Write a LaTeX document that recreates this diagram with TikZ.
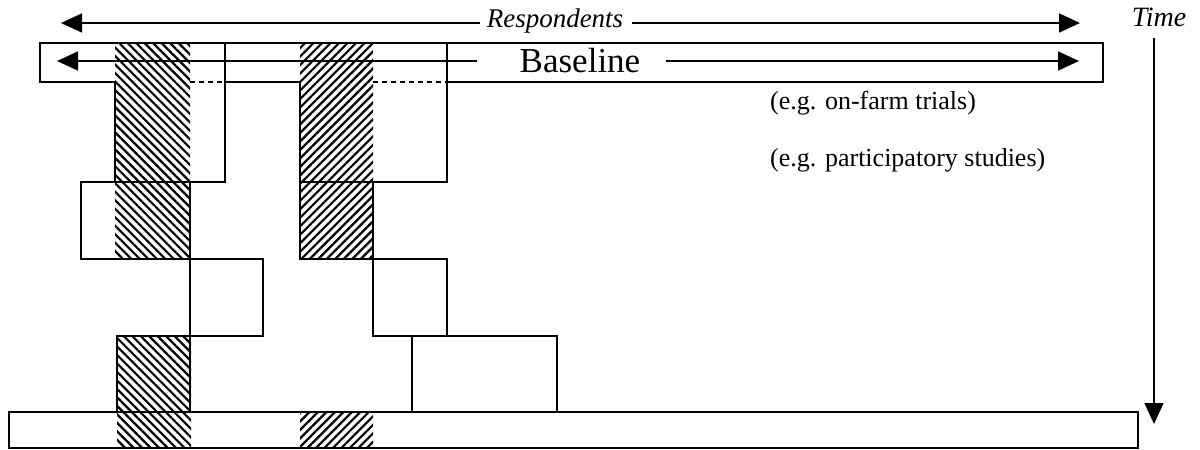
\documentclass[tikz,border=0pt]{standalone}
\usepackage{fontspec}
\setmainfont{Liberation Serif}
\usetikzlibrary{arrows.meta,patterns.meta}
\begin{document}
\begin{tikzpicture}[x=1pt,y=-1pt,
  edge/.style={line width=1.6pt,line cap=rect},
  dashedge/.style={line width=1.6pt,dash pattern=on 5pt off 4pt},
  hatchback/.style={pattern={Lines[angle=-45,distance=6pt,line width=2.2pt]}},
  hatchfwd/.style={pattern={Lines[angle=45,distance=6pt,line width=2.2pt]}},
  bigarrow/.style={line width=1.6pt,-{Triangle[length=21pt,width=19pt]}},
  lbl/.style={inner sep=0pt,font=\fontsize{26}{30}\selectfont}]
\useasboundingbox (0,0) rectangle (1200,450);

% hatched strips
\fill[hatchback] (115,43) rectangle (190,259);
\fill[hatchback] (117,336) rectangle (191,448);
\fill[hatchfwd] (300,43) rectangle (373,259);
\fill[hatchfwd] (300,412) rectangle (373,448);

% baseline band
\draw[edge] (40,82) -- (40,43) -- (1103,43) -- (1103,82) -- (447,82);
\draw[edge] (40,82) -- (115,82);
\draw[edge] (225,82) -- (300,82);
\draw[dashedge] (190,82) -- (225,82);
\draw[dashedge] (373,82) -- (447,82);

% left staircase
\draw[edge] (115,82) -- (115,182);
\draw[edge] (225,43) -- (225,182);
\draw[edge] (81,182) -- (225,182);
\draw[edge] (81,182) -- (81,259) -- (263,259) -- (263,336);
\draw[edge] (190,182) -- (190,412);
\draw[edge] (117,336) -- (263,336);
\draw[edge] (117,336) -- (117,412);

% right staircase
\draw[edge] (300,82) -- (300,259) -- (447,259) -- (447,336);
\draw[edge] (447,43) -- (447,182);
\draw[edge] (300,182) -- (447,182);
\draw[edge] (373,182) -- (373,336) -- (557,336) -- (557,412);
\draw[edge] (412,336) -- (412,412);

% final band
\draw[edge] (9,412) rectangle (1138,448);

% labels
\node[lbl,font=\fontsize{27}{32}\selectfont\itshape] (resp) at (555,21) {Respondents};
\node[lbl,font=\fontsize{35}{40}\selectfont] (base) at (580,61) {Baseline};
\node[lbl,font=\fontsize{28}{33}\selectfont\itshape] (time) at (1159,17) {Time};
\node[lbl,anchor=west] (farm) at (770,103) {(e.g. on-farm trials)};
\node[lbl,anchor=west] (part) at (770,160) {(e.g. participatory studies)};

% arrow ends
\coordinate (respL) at (61,23);
\coordinate (respR) at (1080,23);
\coordinate (respLs) at (480,23);
\coordinate (respRs) at (632,23);
\coordinate (baseL) at (57,61);
\coordinate (baseR) at (1079,61);
\coordinate (baseLs) at (477,61);
\coordinate (baseRs) at (666,61);
\coordinate (timeS) at (1154,38);
\coordinate (timeE) at (1154,424);
\draw[bigarrow] (respLs) -- (respL);
\draw[bigarrow] (respRs) -- (respR);
\draw[bigarrow] (baseLs) -- (baseL);
\draw[bigarrow] (baseRs) -- (baseR);
\draw[bigarrow] (timeS) -- (timeE);
\end{tikzpicture}
\end{document}
